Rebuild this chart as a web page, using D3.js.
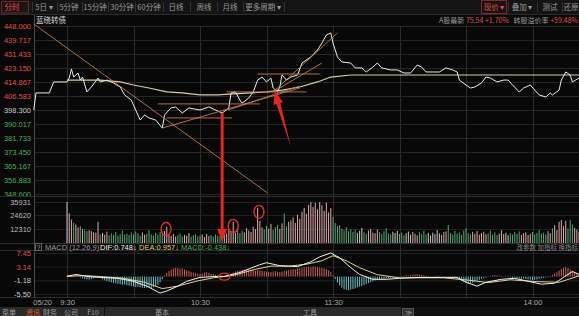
<!DOCTYPE html>
<html>
<head>
<meta charset="utf-8">
<script src="https://cdn.jsdelivr.net/npm/d3@7"></script>
<style>
  body { margin: 0; background: #000; }
  svg { display: block; font-family: 'Liberation Sans', Arial, sans-serif; }
  .cn { font-family: 'Noto Sans CJK SC', sans-serif; }
</style>
</head>
<body>
<div id="chart"></div>
<script>
// ---- data ----
// time = trading minutes after 9:30 (afternoon continues after 11:30)
let priceTimes = [-15, -14, -8, -6, 0, 1, 2, 3, 5, 6, 7, 9, 11, 14, 15, 18, 21, 24, 26, 29, 31, 33, 35, 37, 40, 43, 44, 46, 47, 49, 52, 55, 60, 64, 69, 70, 73, 74, 76, 78, 79, 82, 84, 86, 88, 90, 92, 93, 95, 96, 97, 99, 101, 104, 106, 110, 113, 115, 117, 119, 120, 122, 124, 128, 130, 133, 135, 138, 140, 142, 146, 149, 152, 155, 158, 160, 162, 165, 168, 171, 174, 176, 177, 180, 182, 184, 187, 189, 191, 194, 197, 199, 201, 204, 206, 209, 211, 213, 216, 218, 219, 222, 223, 225, 227, 228, 231]
let priceValues = [398.3, 408.4, 408.4, 414.9, 414.9, 417.2, 422.6, 417.8, 420.2, 416.0, 417.8, 409.0, 411.9, 417.2, 414.9, 416.0, 414.3, 411.9, 407.2, 404.2, 398.3, 392.4, 395.3, 393.6, 392.4, 387.6, 395.3, 398.3, 399.5, 400.1, 396.5, 399.5, 398.3, 400.1, 397.1, 396.5, 399.5, 408.4, 409.0, 404.2, 402.4, 405.4, 409.0, 416.0, 417.8, 414.9, 417.2, 411.3, 409.0, 411.9, 419.0, 416.0, 417.8, 419.0, 426.1, 429.7, 433.8, 437.9, 442.7, 443.9, 437.9, 429.7, 426.7, 426.1, 423.2, 423.2, 420.8, 423.7, 426.1, 423.2, 422.0, 422.0, 420.2, 420.2, 424.9, 423.7, 420.8, 420.8, 420.8, 423.2, 422.0, 420.8, 416.0, 413.1, 411.3, 411.9, 414.3, 417.8, 417.2, 414.9, 416.0, 416.0, 413.1, 409.0, 411.3, 413.1, 410.1, 407.2, 406.0, 408.4, 407.2, 410.1, 416.0, 420.8, 419.0, 414.9, 417.2]

let avgTimes = [0, 15, 24, 30, 37, 45, 52, 60, 68, 75, 83, 90, 97, 105, 113, 119, 128, 231]
let avgValues = [416.0, 416.0, 414.9, 413.1, 411.3, 409.0, 408.4, 407.2, 407.2, 407.8, 408.4, 409.0, 410.1, 411.9, 414.9, 417.8, 419.0, 419.0]

// one volume bar per minute, t = 0..231
let volumes = [
  35900, 26000, 20500, 17600, 16200, 13600, 14800, 12100, 11600, 10400,
  11200, 10300, 9400, 9000, 18500, 7600, 8800, 7200, 9900, 6800,
  8400, 7100, 9600, 6500, 7800, 10800, 7400, 8200, 6900, 9100,
  7700, 10200, 8600, 6400, 9300, 7200, 8000, 11400, 7600, 6600,
  8800, 7300, 9700, 8100, 10600, 14200, 7000, 6200, 7900, 5600,
  6900, 8300, 5900, 7100, 6300, 8600, 5400, 6800, 7700, 5800,
  6600, 7400, 5300, 8000, 6100, 6900, 5700, 7500, 6400, 5900,
  6000, 9800, 8200, 11600, 10100, 18600, 9000, 12400, 8700, 10800,
  9300, 12800, 11000, 9600, 14300, 12200, 30800, 19400, 13600, 11800,
  14900, 12600, 16800, 11400, 13900, 15700, 12300, 17200, 26000, 14600,
  18500, 19800, 22400, 17600, 24800, 21200, 27400, 30800, 25600, 33400,
  36000, 31400, 35200, 29600, 35900, 33100, 28200, 35400, 26800, 30600,
  22900, 17600, 14800, 15800, 12600, 11200, 13900, 10400, 12100, 9800,
  11600, 8900, 10700, 13200, 9400, 8100, 10900, 12400, 9200, 8600,
  11800, 9500, 8000, 10300, 12900, 8400, 7600, 9900, 8800, 10600,
  7900, 9200, 6800, 8500, 10100, 7300, 9600, 8200, 6700, 9400,
  8000, 10800, 7500, 8900, 6600, 9100, 7800, 11300, 8400, 7100,
  9700, 10200, 15800, 8600, 7400, 10500, 8200, 9300, 7200, 11000,
  13000, 8700, 7600, 9800, 8100, 10600, 7300, 8800, 9900, 7700,
  8500, 10900, 7400, 9200, 6900, 8300, 11200, 7800, 9000, 6800,
  8700, 7500, 9600, 8000, 10300, 7200, 8600, 9400, 7000, 8200,
  9800, 7600, 8900, 11500, 8300, 9100, 7400, 10400, 8600, 12800,
  15600, 11200, 18600, 20200, 14800, 19400, 12600, 20000, 16200, 13400,
  11800, 9600
]

let macdHist = [
  0.3, 0.5, 0.4, 0.2, 0.3, 0.1, -0.3, -0.6, -0.8, -0.9,
  -1.0, -0.8, -0.6, -0.4, -0.3, -0.5, -0.9, -1.2, -1.4, -1.6,
  -1.8, -2.0, -2.1, -2.3, -2.4, -2.6, -2.5, -2.7, -2.9, -3.0,
  -3.1, -3.3, -3.2, -3.4, -3.5, -3.6, -3.5, -3.4, -3.6, -3.3,
  -3.0, -2.6, -1.8, -0.8, 0.4, 1.2, 1.8, 2.3, 2.6, 2.8,
  2.7, 2.5, 2.6, 2.3, 2.0, 1.8, 1.5, 1.3, 1.1, 0.9,
  0.8, 1.0, 1.2, 1.4, 1.1, 0.9, 0.7, 0.5, 0.4, 0.3,
  0.2, 0.1, 0.3, 0.6, 0.9, 1.3, 1.6, 1.8, 2.0, 2.1,
  2.2, 2.1, 2.3, 2.2, 2.0, 1.9, 2.1, 2.0, 1.8, 1.7,
  1.6, 1.5, 1.4, 1.6, 1.7, 1.5, 1.4, 1.6, 1.8, 1.9,
  2.0, 2.2, 2.4, 2.3, 2.5, 2.6, 2.8, 2.9, 3.0, 3.1,
  3.0, 3.2, 3.1, 3.0, 2.9, 2.8, 2.6, 2.4, 2.0, 1.4,
  0.4, -0.8, -1.9, -2.8, -3.5, -4.0, -4.2, -4.3, -4.1, -3.9,
  -3.7, -3.4, -3.2, -3.0, -2.7, -2.4, -2.1, -1.8, -1.5, -1.2,
  -1.0, -0.9, -0.8, -0.7, -0.6, -0.5, -0.4, -0.3, -0.3, -0.2,
  -0.2, 0.2, 0.3, 0.4, 0.3, 0.5, 0.6, 0.7, 0.8, 0.6,
  0.5, 0.4, 0.3, 0.2, 0.1, -0.1, 0.2, 0.3, 0.2, 0.1,
  0.2, 0.1, -0.1, -0.2, -0.3, -0.5, -0.8, -1.1, -1.4, -1.7,
  -2.0, -2.2, -2.1, -1.9, -1.6, -1.3, -1.0, -0.7, -0.5, -0.3,
  -0.1, 0.2, 0.4, 0.5, 0.4, 0.3, 0.2, 0.1, -0.1, -0.2,
  -0.3, -0.4, -0.3, -0.5, -0.6, -0.7, -0.6, -0.8, -0.9, -1.0,
  -1.1, -1.0, -0.9, -0.7, -0.5, -0.4, -0.3, -0.2, 0.2, 0.5,
  0.9, 1.4, 1.9, 2.4, 2.8, 3.0, 2.7, 2.3, 1.9, 1.5,
  1.1, 0.8
]

let difTimes = [0, 4, 9, 15, 23, 30, 36, 42, 45, 50, 54, 60, 68, 71, 78, 87, 90, 96, 104, 110, 114, 119, 123, 128, 132, 138, 144, 150, 159, 168, 176, 180, 185, 189, 196, 202, 208, 214, 220, 224, 228, 231]
let difValues = [0.06, 0.68, 0.06, -0.25, -0.55, -1.48, -3.02, -5.2, -4.56, -3.02, -1.48, -0.25, 0.06, 0.06, 1.3, 3.76, 4.38, 3.45, 3.15, 4.69, 6.23, 7.46, 5.92, 2.84, 0.68, -0.86, -0.86, -0.55, -0.25, -0.25, -0.25, -1.79, -3.02, -1.79, -0.86, -0.55, -1.48, -2.4, -2.1, -0.25, 1.6, 0.68]
let deaTimes = [0, 8, 15, 25, 35, 43, 50, 58, 66, 75, 85, 92, 100, 108, 115, 120, 126, 132, 140, 150, 170, 182, 190, 200, 212, 222, 231]
let deaValues = [0.1, 0.3, 0, -0.5, -1.8, -3.8, -3.0, -1.5, -0.4, 0.4, 2.3, 3.3, 3.3, 3.9, 5.0, 6.6, 5.0, 2.8, 0.6, -0.4, -0.4, -1.2, -1.9, -1.0, -1.6, -1.8, 0.2]

let priceTicks = [448, 439.717, 431.433, 423.15, 414.867, 406.583, 398.3, 390.017, 381.733, 373.45, 365.167, 356.883, 348.6]
let prevClose = 398.3
let volTicks = [35931, 24620, 12310]
let macdTicks = [7.45, 3.14, -1.18, -5.5]
let timeTicks = [-15, 0, 60, 120, 210]
let timeLabels = ['05/20', '9:30', '10:30', '11:30', '14:00']
let gridTimes = [0, 30, 60, 90, 120, 150, 180, 210]

// hand-drawn trend lines: [t1, price1, t2, price2]
let trendLines = [
  [-15, 449.2, 90.5, 349.2],
  [41, 401.9, 87, 401.9],
  [45, 393.6, 74.5, 393.6],
  [43, 387.6, 105, 411.3],
  [72.6, 398.3, 105, 412.5],
  [72, 409.0, 108, 409.0],
  [86, 419.6, 114, 419.6],
  [93, 409.0, 122, 443.9],
  [93, 409.0, 115, 426.1]
]
// volume circles [t, volume], macd circle [t, value]
let volCircles = [[44.7, 12300], [75, 15000], [86.6, 27300]]
let macdCircles = [[71, 0]]

let topTabs = ['分时', '5日 ▾', '5分钟', '15分钟', '30分钟', '60分钟', '日线', '周线', '月线', '更多周期 ▾']
let rightTabs = ['现价 ▾', '叠加 ▾', '测试', '还原']
let bottomTabs = ['菜单', '资讯', '财务', '公司', 'F10']
let infoTexts = ['A股最新 ', '75.54 ', '+1.70%', '   转股溢价率 ', '+59.48%']

// ---- layout ----
let width = 579
let height = 316
let plotLeft = 34

let svg = d3.select('#chart').append('svg')
  .attr('width', width).attr('height', height)

svg.append('rect').attr('width', width).attr('height', height).attr('fill', '#080808')

let xScale = d3.scaleLinear().domain([-15, 240]).range([33.75, 599])
let priceScale = d3.scaleLinear().domain([348.6, 448]).range([194, 26])
let volScale = d3.scaleLinear().domain([0, 35931]).range([243, 202])
let macdScale = d3.scaleLinear().domain([-5.5, 7.45]).range([294, 253])

let red = '#e0504c'
let green = '#4caf5a'

// toolbar
svg.append('rect').attr('x', 0).attr('y', 0).attr('width', width).attr('height', 14).attr('fill', '#141414')
svg.append('line').attr('x1', 0).attr('x2', width).attr('y1', 14.5).attr('y2', 14.5).attr('stroke', '#2c2c2c')
let tabCenters = [12, 44, 69, 95, 122, 149, 176, 204, 230, 263]
let tabEdges = [32, 57, 82, 108, 135, 163, 190, 217, 243, 284]
svg.append('rect').attr('x', 1.5).attr('y', 1.5).attr('width', 27).attr('height', 11.5)
  .attr('fill', '#1e1414').attr('stroke', '#6a2a2a')
tabEdges.forEach(e => {
  svg.append('line').attr('x1', e + 0.5).attr('x2', e + 0.5).attr('y1', 2).attr('y2', 12).attr('stroke', '#333')
})
svg.selectAll('.top-tab').data(topTabs).enter().append('text')
  .attr('class', 'top-tab cn')
  .attr('x', (d, i) => tabCenters[i]).attr('y', 10)
  .attr('text-anchor', 'middle').attr('font-size', 7.5)
  .attr('fill', (d, i) => i === 0 ? red : '#9a9a9a')
  .text(d => d)

let rightCenters = [494, 522, 550, 571]
svg.append('rect').attr('x', 481.5).attr('y', 0.5).attr('width', 25).attr('height', 13)
  .attr('fill', '#1a1212').attr('stroke', '#7a2c2c')
;[508, 537, 562].forEach(e => {
  svg.append('line').attr('x1', e + 0.5).attr('x2', e + 0.5).attr('y1', 2).attr('y2', 12).attr('stroke', '#333')
})
svg.selectAll('.right-tab').data(rightTabs).enter().append('text')
  .attr('class', 'right-tab cn')
  .attr('x', (d, i) => rightCenters[i]).attr('y', 10)
  .attr('text-anchor', 'middle').attr('font-size', 7.5)
  .attr('fill', (d, i) => i === 0 ? red : '#9a9a9a')
  .text(d => d)

// title row
svg.append('text').attr('class', 'cn').attr('x', 36).attr('y', 22.5)
  .attr('font-size', 7.5).attr('fill', '#d8d8d8').text('蓝晓转债')
let infoText = svg.append('text').attr('class', 'cn').attr('x', 578).attr('y', 22.5)
  .attr('text-anchor', 'end').attr('font-size', 7).attr('xml:space', 'preserve')
infoText.selectAll('tspan').data(infoTexts).enter().append('tspan')
  .attr('fill', (d, i) => i === 0 || i === 3 ? '#9a9a9a' : red)
  .text(d => d)

// price axis + grid
let yAxis = d3.axisLeft(priceScale).tickValues(priceTicks)
  .tickFormat(d => d.toFixed(3)).tickSize(-(width - plotLeft)).tickPadding(3)
let yAxisG = svg.append('g').attr('transform', 'translate(' + plotLeft + ',0)').call(yAxis)
yAxisG.select('.domain').remove()
yAxisG.selectAll('line').attr('stroke', '#262626')
yAxisG.selectAll('text').attr('font-size', 7.5).attr('font-family', 'Liberation Sans, Arial')
  .attr('fill', d => d > prevClose + 0.01 ? red : (d < prevClose - 0.01 ? green : '#cfcfcf'))

// volume axis
let volAxis = d3.axisLeft(volScale).tickValues(volTicks).tickFormat(d => d)
  .tickSize(-(width - plotLeft)).tickPadding(3)
let volAxisG = svg.append('g').attr('transform', 'translate(' + plotLeft + ',0)').call(volAxis)
volAxisG.select('.domain').remove()
volAxisG.selectAll('line').attr('stroke', '#222')
volAxisG.selectAll('text').attr('font-size', 7.5).attr('font-family', 'Liberation Sans, Arial').attr('fill', '#b8b8b8')

// panel separators (drawn under the macd labels)
;[196.5, 243.5, 250.5, 297.5].forEach(y => {
  svg.append('line').attr('x1', 0).attr('x2', width).attr('y1', y).attr('y2', y).attr('stroke', '#2e2e2e')
})

// macd axis
let macdAxis = d3.axisLeft(macdScale).tickValues(macdTicks).tickFormat(d => d.toFixed(2))
  .tickSize(-(width - plotLeft)).tickPadding(3)
let macdAxisG = svg.append('g').attr('transform', 'translate(' + plotLeft + ',0)').call(macdAxis)
macdAxisG.select('.domain').remove()
macdAxisG.selectAll('line').attr('stroke', '#222')
macdAxisG.selectAll('text').attr('font-size', 7.5).attr('font-family', 'Liberation Sans, Arial')
  .attr('fill', d => d > 0 ? red : '#cfcfcf')

// vertical grid
svg.selectAll('.vgrid').data(gridTimes).enter().append('line')
  .attr('class', 'vgrid')
  .attr('x1', d => Math.round(xScale(d)) + 0.5).attr('x2', d => Math.round(xScale(d)) + 0.5)
  .attr('y1', 26).attr('y2', 297).attr('stroke', '#2c2c2c')
svg.append('line').attr('x1', plotLeft + 0.5).attr('x2', plotLeft + 0.5)
  .attr('y1', 15).attr('y2', 297).attr('stroke', '#4a4a4a')

// x axis labels
let xAxis = d3.axisBottom(xScale).tickValues(timeTicks)
  .tickFormat((d, i) => timeLabels[i]).tickSize(0).tickPadding(0)
let xAxisG = svg.append('g').attr('transform', 'translate(0,299.5)').call(xAxis)
xAxisG.select('.domain').remove()
xAxisG.selectAll('text').attr('font-size', 7.5).attr('font-family', 'Liberation Sans, Arial').attr('fill', '#a8a8a8')
xAxisG.selectAll('text').filter((d, i) => i === 0).attr('text-anchor', 'start').attr('x', -1)

// average price line
let avgLine = d3.line().x(d => xScale(d[0])).y(d => priceScale(d[1]))
svg.append('path').datum(d3.zip(avgTimes, avgValues))
  .attr('d', avgLine).attr('fill', 'none').attr('stroke', '#d9cba6').attr('stroke-width', 1.2)

// price line
let priceLine = d3.line().x(d => xScale(d[0])).y(d => priceScale(d[1]))
svg.append('path').datum(d3.zip(priceTimes, priceValues))
  .attr('d', priceLine).attr('fill', 'none').attr('stroke', '#ececec').attr('stroke-width', 1)

// trend lines
svg.selectAll('.trend').data(trendLines).enter().append('line')
  .attr('class', 'trend')
  .attr('x1', d => xScale(d[0])).attr('y1', d => priceScale(d[1]))
  .attr('x2', d => xScale(d[2])).attr('y2', d => priceScale(d[3]))
  .attr('stroke', '#c47a52').attr('stroke-width', 1).attr('opacity', 0.9)

// volume bars, coloured by price direction
function direction(t) {
  for (let j = 1; j < priceTimes.length; j++) {
    if (priceTimes[j] >= t) return priceValues[j] - priceValues[j - 1]
  }
  return 0
}
svg.selectAll('.vol').data(volumes).enter().append('rect')
  .attr('class', 'vol')
  .attr('x', (d, i) => xScale(i) - 0.5).attr('width', 1)
  .attr('y', d => volScale(d)).attr('height', d => volScale(0) - volScale(d))
  .attr('fill', (d, i) => direction(i) > 0 ? '#dcaaaa' : (direction(i) < 0 ? '#5aa57a' : '#c8c8c8'))

// macd histogram
svg.selectAll('.hist').data(macdHist).enter().append('rect')
  .attr('class', 'hist')
  .attr('x', (d, i) => xScale(i) - 0.5).attr('width', 1)
  .attr('y', d => macdScale(Math.max(0, d)))
  .attr('height', d => Math.abs(macdScale(d) - macdScale(0)))
  .attr('fill', d => d >= 0 ? '#c85c5c' : '#6abcc4')

let macdLine = d3.line().x(d => xScale(d[0])).y(d => macdScale(d[1]))
svg.append('path').datum(d3.zip(deaTimes, deaValues))
  .attr('d', macdLine).attr('fill', 'none').attr('stroke', '#e2cf8e').attr('stroke-width', 1)
svg.append('path').datum(d3.zip(difTimes, difValues))
  .attr('d', macdLine).attr('fill', 'none').attr('stroke', '#f2f2f2').attr('stroke-width', 1)

// macd legend row
svg.append('rect').attr('x', 35.5).attr('y', 243.5).attr('width', 6).attr('height', 7)
  .attr('fill', 'none').attr('stroke', '#666')
svg.append('text').attr('x', 38.5).attr('y', 249.5).attr('text-anchor', 'middle')
  .attr('font-size', 6.5).attr('fill', '#aaa').text('?')
let legend = [
  ['MACD (12,26,9)', 45, '#9a9a9a'], ['DIF:0.748↓', 100, '#f0f0f0'],
  ['DEA:0.957↓', 139, '#e6d060'], ['MACD:-0.438↓', 181, green]
]
legend.forEach(d => {
  svg.append('text').attr('x', d[1]).attr('y', 249.5).attr('font-size', 7.5).attr('fill', d[2]).text(d[0])
})
svg.append('text').attr('class', 'cn').attr('x', 578).attr('y', 249.5).attr('text-anchor', 'end')
  .attr('font-size', 6.5).attr('fill', '#8a8a8a').text('改参数 加指标 换指标')

// red annotations
let arrowRed = '#e3271f'
let ax = xScale(70)
svg.append('line').attr('x1', ax).attr('x2', ax)
  .attr('y1', priceScale(396.5)).attr('y2', volScale(0) - 12)
  .attr('stroke', arrowRed).attr('stroke-width', 3)
svg.append('path')
  .attr('d', 'M' + (ax - 5) + ',' + (volScale(0) - 14) + 'L' + (ax + 5) + ',' + (volScale(0) - 14) +
    'L' + ax + ',' + (volScale(0) - 1) + 'Z')
  .attr('fill', arrowRed)

let tip = [xScale(93.7), priceScale(409.5)]
let tail = [xScale(101), priceScale(376.4)]
let dx = tail[0] - tip[0]
let dy = tail[1] - tip[1]
let len = Math.sqrt(dx * dx + dy * dy)
let ux = dx / len
let uy = dy / len
let base = [tip[0] + ux * 13, tip[1] + uy * 13]
let pts = [
  tip,
  [base[0] + uy * 5, base[1] - ux * 5],
  [base[0] + uy * 2, base[1] - ux * 2],
  tail,
  [base[0] - uy * 2, base[1] + ux * 2],
  [base[0] - uy * 5, base[1] + ux * 5]
]
svg.append('path').attr('d', 'M' + pts.map(p => p.join(',')).join('L') + 'Z').attr('fill', arrowRed)

svg.selectAll('.vcirc').data(volCircles).enter().append('ellipse')
  .attr('class', 'vcirc')
  .attr('cx', d => xScale(d[0])).attr('cy', d => volScale(d[1]))
  .attr('rx', 5).attr('ry', 6.5)
  .attr('fill', 'none').attr('stroke', '#e0302a').attr('stroke-width', 1.4)
svg.selectAll('.mcirc').data(macdCircles).enter().append('ellipse')
  .attr('class', 'mcirc')
  .attr('cx', d => xScale(d[0])).attr('cy', d => macdScale(d[1]))
  .attr('rx', 5.5).attr('ry', 3.5)
  .attr('fill', 'none').attr('stroke', '#e0302a').attr('stroke-width', 1.4)

// bottom bar
svg.append('rect').attr('x', 0).attr('y', 307).attr('width', width).attr('height', 9).attr('fill', '#101010')
svg.append('rect').attr('x', 0).attr('y', 307).attr('width', 401).attr('height', 9).attr('fill', '#2a2a2a')
svg.append('rect').attr('x', 402.5).attr('y', 308.5).attr('width', 11).attr('height', 7.5)
  .attr('fill', '#333').attr('stroke', '#555')
svg.append('text').attr('x', 408).attr('y', 314.5).attr('text-anchor', 'middle')
  .attr('font-size', 7).attr('fill', '#999').text('≫')
svg.append('line').attr('x1', 104.5).attr('x2', 104.5).attr('y1', 307).attr('y2', 316).attr('stroke', '#111')
let bottomX = [9, 33, 50, 71, 93]
svg.selectAll('.btab').data(bottomTabs).enter().append('text')
  .attr('class', 'btab cn')
  .attr('x', (d, i) => bottomX[i]).attr('y', 315)
  .attr('text-anchor', 'middle').attr('font-size', 7)
  .attr('fill', (d, i) => i === 1 ? '#e0602c' : '#9a9a9a')
  .text(d => d)
svg.append('text').attr('class', 'cn').attr('x', 162).attr('y', 315).attr('text-anchor', 'middle')
  .attr('font-size', 7).attr('fill', '#9a9a9a').text('基本')
svg.append('text').attr('class', 'cn').attr('x', 310).attr('y', 315).attr('text-anchor', 'middle')
  .attr('font-size', 7).attr('fill', '#9a9a9a').text('工具')
</script>
</body>
</html>
